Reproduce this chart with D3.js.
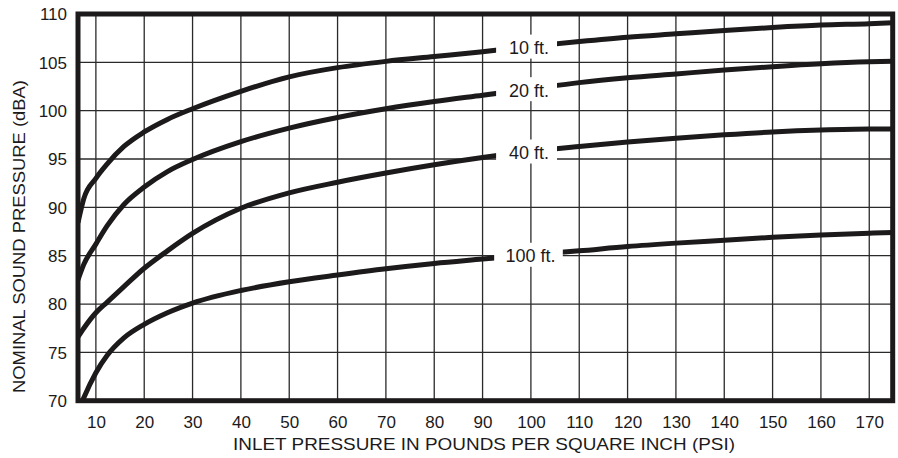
<!DOCTYPE html>
<html>
<head>
<meta charset="utf-8">
<script src="https://cdn.jsdelivr.net/npm/d3@7"></script>
<style>
  html, body { margin: 0; padding: 0; background: #fff; }
  svg { display: block; font-family: "Liberation Sans", Arial, Helvetica, sans-serif; }
</style>
</head>
<body>
<svg id="chart" width="898" height="458"></svg>
<script>
// ---- data ----
const pressure = [6.3, 7.5, 10, 12.35, 15.8, 20, 24.8, 30, 40, 50, 60, 70, 80, 90, 100, 110, 120, 130, 140, 150, 160, 170, 174.85];
const sound10ft  = [88.4, 90.9, 93.0, 94.5, 96.3, 97.8, 99.1, 100.2, 102.0, 103.5, 104.45, 105.1, 105.6, 106.1, 106.65, 107.15, 107.6, 107.95, 108.3, 108.6, 108.85, 109.0, 109.1];
const sound20ft  = [82.5, 84.1, 86.2, 88.1, 90.3, 92.1, 93.7, 94.95, 96.8, 98.2, 99.3, 100.2, 100.95, 101.6, 102.25, 102.9, 103.4, 103.8, 104.2, 104.55, 104.85, 105.05, 105.1];
const sound40ft  = [76.6, 77.5, 79.1, 80.2, 81.8, 83.7, 85.5, 87.3, 89.9, 91.5, 92.6, 93.55, 94.4, 95.15, 95.8, 96.3, 96.75, 97.15, 97.5, 97.8, 98.0, 98.1, 98.1];
const sound100ft = [68.8, 70.3, 72.9, 74.7, 76.5, 77.9, 79.1, 80.1, 81.4, 82.3, 83.0, 83.65, 84.2, 84.65, 85.1, 85.5, 85.95, 86.3, 86.6, 86.9, 87.15, 87.33, 87.4];
const seriesLabels = ["10 ft.", "20 ft.", "40 ft.", "100 ft."];
const labelPressure = [99.6, 99.6, 99.6, 99.9];
const gapStart = [92.8, 92.8, 92.8, 92.4];
const gapEnd   = [105.4, 105.4, 105.4, 106.6];
const xTicks = [10, 20, 30, 40, 50, 60, 70, 80, 90, 100, 110, 120, 130, 140, 150, 160, 170];
const yTicks = [70, 75, 80, 85, 90, 95, 100, 105, 110];
const xTitle = "INLET PRESSURE IN POUNDS PER SQUARE INCH (PSI)";
const yTitle = "NOMINAL SOUND PRESSURE (dBA)";

// ---- layout ----
const pLeft = 78, pRight = 892.7, pTop = 14, pBottom = 400.7;
const x = d3.scaleLinear().domain([6.3, 174.85]).range([pLeft, pRight]);
const y = d3.scaleLinear().domain([70, 110]).range([pBottom, pTop]);
const svg = d3.select("#chart");
const ink = "#1c1a1b";

svg.append("defs").append("clipPath").attr("id", "plotclip")
  .append("rect").attr("x", pLeft).attr("y", pTop).attr("width", pRight - pLeft).attr("height", pBottom - pTop);

// grid
const grid = svg.append("g").attr("stroke", "#2a2a2a").attr("stroke-width", 1.3);
grid.selectAll("line.v").data(xTicks).join("line").attr("class", "v")
  .attr("x1", d => x(d)).attr("x2", d => x(d)).attr("y1", pTop).attr("y2", pBottom);
grid.selectAll("line.h").data(yTicks.filter(d => d > 70 && d < 110)).join("line").attr("class", "h")
  .attr("x1", pLeft).attr("x2", pRight).attr("y1", d => y(d)).attr("y2", d => y(d));

// curves
const allSeries = [sound10ft, sound20ft, sound40ft, sound100ft];
const line = d3.line().x((d, i) => x(pressure[i])).y(d => y(d)).curve(d3.curveMonotoneX);
const curves = svg.append("g").attr("clip-path", "url(#plotclip)");
curves.selectAll("path").data(allSeries).join("path")
  .attr("d", d => line(d)).attr("fill", "none").attr("stroke", ink).attr("stroke-width", 5);

// label gaps
function valueAt(series, p) {
  const interp = d3.scaleLinear().domain(pressure).range(series);
  return interp(p);
}
const gaps = svg.append("g");
allSeries.forEach((s, i) => {
  const cy = y(valueAt(s, labelPressure[i]));
  gaps.append("rect")
    .attr("x", x(gapStart[i])).attr("width", x(gapEnd[i]) - x(gapStart[i]))
    .attr("y", cy - 12).attr("height", 24).attr("fill", "#fff");
  gaps.append("text")
    .attr("x", x(labelPressure[i])).attr("y", cy + 7.5)
    .attr("text-anchor", "middle").attr("font-size", 18).attr("fill", ink)
    .text(seriesLabels[i]);
});

// frame
svg.append("rect").attr("x", pLeft).attr("y", pTop).attr("width", pRight - pLeft).attr("height", pBottom - pTop)
  .attr("fill", "none").attr("stroke", ink).attr("stroke-width", 5);

// axes
const xAxis = d3.axisBottom(x).tickValues(xTicks).tickSize(0).tickPadding(0);
const gx = svg.append("g").attr("transform", `translate(0,${pBottom})`).call(xAxis);
gx.select(".domain").remove();
gx.selectAll("text").attr("font-size", 17).attr("fill", ink)
  .attr("dy", null).attr("y", 27.5);
gx.attr("font-family", null).attr("font-size", null);

const yAxis = d3.axisLeft(y).tickValues(yTicks).tickSize(0).tickPadding(0);
const gy = svg.append("g").attr("transform", `translate(${pLeft},0)`).call(yAxis);
gy.select(".domain").remove();
gy.selectAll("text").attr("font-size", 17).attr("fill", ink)
  .attr("x", -11).attr("dy", "0.35em");
gy.attr("font-family", null).attr("font-size", null);

// titles
svg.append("text").attr("x", 484).attr("y", 450).attr("text-anchor", "middle")
  .attr("font-size", 17).attr("fill", ink)
  .attr("textLength", 502).attr("lengthAdjust", "spacingAndGlyphs").text(xTitle);
svg.append("text").attr("transform", "translate(25,236.5) rotate(-90)").attr("text-anchor", "middle")
  .attr("font-size", 17).attr("fill", ink)
  .attr("textLength", 313).attr("lengthAdjust", "spacingAndGlyphs").text(yTitle);
</script>
</body>
</html>
